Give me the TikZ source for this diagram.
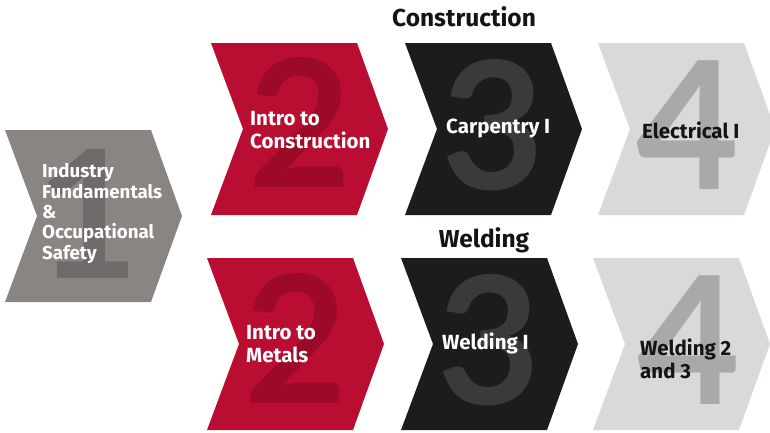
\documentclass[tikz,border=0pt]{standalone}
\usepackage{fontspec}
\setmainfont{Fira Sans}
\newfontfamily\numfont{Lato}
\usetikzlibrary{positioning}

\definecolor{pathred}{HTML}{B90E31}
\definecolor{pathredshade}{HTML}{9D0A27}
\definecolor{pathblack}{HTML}{1D1B1C}
\definecolor{pathblackshade}{HTML}{3B393A}
\definecolor{pathlight}{HTML}{DAD8D8}
\definecolor{pathlightshade}{HTML}{AAA8A8}
\definecolor{pathgray}{HTML}{8A8482}
\definecolor{pathgrayshade}{HTML}{6F6A69}
\definecolor{ink}{HTML}{141414}

% one chevron: left corner x, top y, colour
\newcommand{\chevron}[3]{%
  \fill[#3] (#1,#2) -- ++(146,0) -- ++(31,86) -- ++(-31,86) -- ++(-146,0) -- ++(32,-86) -- cycle;}

\tikzset{
  numeral/.style={inner sep=0pt, font=\numfont\bfseries\fontsize{178}{178}\selectfont},
  course/.style={anchor=west, align=left, inner sep=0pt, text=white,
    font=\bfseries\fontsize{20.5}{23}\selectfont},
  heading/.style={inner sep=0pt, text=ink, font=\bfseries\fontsize{24.5}{28}\selectfont}
}

\begin{document}
\begin{tikzpicture}[x=1pt,y=-1pt]
  \useasboundingbox (0,0) rectangle (770,432);
  \clip (0,0) rectangle (770,432);

  % shapes
  \chevron{5}{130}{pathgray}
  \chevron{211}{43}{pathred}
  \chevron{405}{43}{pathblack}
  \chevron{598}{43}{pathlight}
  \chevron{207}{258}{pathred}
  \chevron{401}{258}{pathblack}
  \chevron{593}{258}{pathlight}

  % big step numbers
  \node[numeral, text=pathgrayshade] (n1) at (88,214) {1};
  \node[numeral, text=pathredshade] (n2c) at (300,122) {2};
  \node[numeral, text=pathblackshade] (n3c) at (493,125) {3};
  \node[numeral, text=pathlightshade] (n4c) at (688,125) {4};
  \node[numeral, text=pathredshade] (n2w) at (296,338) {2};
  \node[numeral, text=pathblackshade] (n3w) at (489,340) {3};
  \node[numeral, text=pathlightshade] (n4w) at (689,340) {4};

  % headings
  \node[heading] (construction) at (464,17) {Construction};
  \node[heading] (welding) at (484,240) {Welding};

  % courses
  \node[course, font=\bfseries\fontsize{18.7}{20.3}\selectfont] (fundamentals) at (42,213.5)
    {Industry\\Fundamentals\\\&\\Occupational\\Safety};
  \node[course] (introcon) at (250,130) {Intro to\\Construction};
  \node[course] (carpentry) at (446,128) {Carpentry I};
  \node[course, text=ink] (electrical) at (642,130) {Electrical I};
  \node[course] (intromet) at (246,344) {Intro to\\Metals};
  \node[course] (weldone) at (442,343) {Welding I};
  \node[course, text=ink] (weldtwo) at (640,359) {Welding 2\\and 3};
\end{tikzpicture}
\end{document}
